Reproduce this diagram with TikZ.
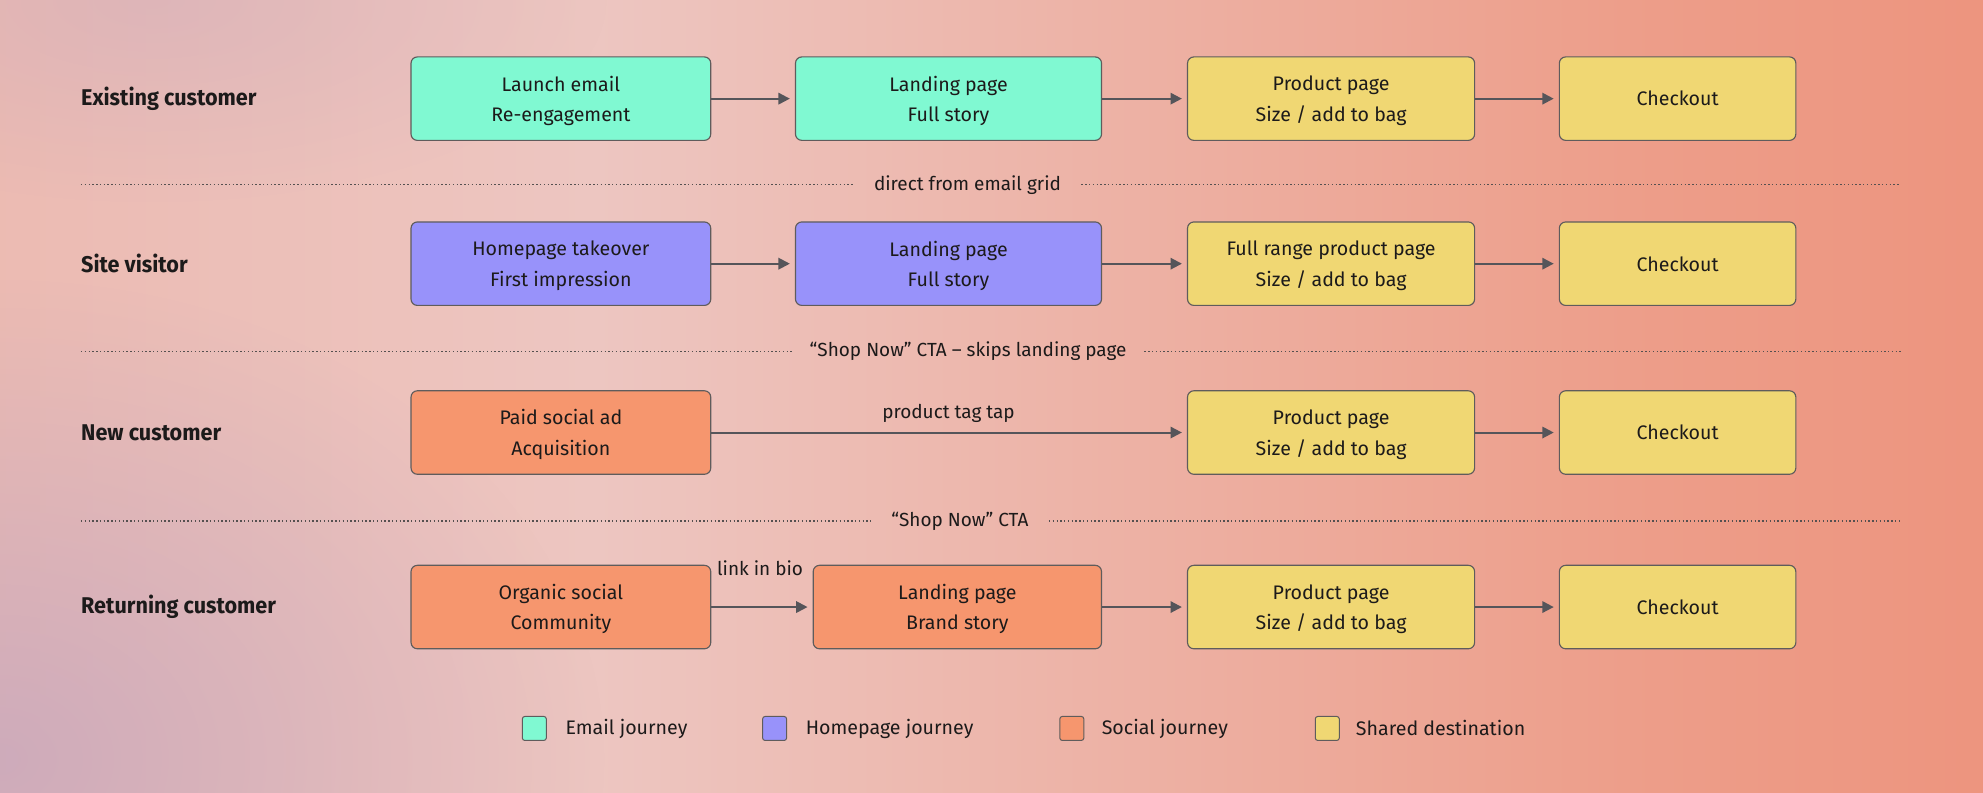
\documentclass[tikz,border=0pt]{standalone}
\usepackage{fontspec}
\setmainfont{Fira Sans}
\newfontfamily\rowfont[FakeStretch=0.95]{Fira Sans}
\usetikzlibrary{arrows.meta,fadings}

\definecolor{emailc}{RGB}{128,249,210}
\definecolor{homec}{RGB}{152,146,250}
\definecolor{socialc}{RGB}{246,150,110}
\definecolor{sharedc}{RGB}{240,215,115}
\definecolor{edgec}{RGB}{95,92,92}
\definecolor{arrowc}{RGB}{85,85,90}
\definecolor{inkc}{RGB}{28,26,26}
\definecolor{dotc}{RGB}{85,80,80}
\definecolor{bgL}{RGB}{234,168,154}
\definecolor{bgM}{RGB}{237,198,193}
\definecolor{bgN}{RGB}{237,158,138}
\definecolor{bgR}{RGB}{238,122,95}
\definecolor{lavc}{RGB}{196,166,190}

\pgfdeclarehorizontalshading{bgshade}{100bp}{color(0bp)=(bgL); color(40bp)=(bgM); color(66bp)=(bgN); color(100bp)=(bgR)}
\tikzfading[name=softblob, inner color=transparent!0, outer color=transparent!100]

\tikzset{
  stage/.style={draw=edgec, line width=0.9pt, rounded corners=5pt, minimum height=66pt,
    align=center, inner sep=0pt, text depth=0pt, text=inkc, font=\fontsize{15.5}{24}\selectfont},
  flow/.style={draw=arrowc, line width=1.6pt, -{Triangle[length=9pt,width=9pt]}, shorten >=4pt},
  rowlabel/.style={anchor=west, inner xsep=0pt, text=inkc, font=\rowfont\bfseries\fontsize{18}{20}\selectfont},
  divider/.style={draw=dotc, line width=1.1pt, dash pattern=on 1.1pt off 1.9pt},
  gapnote/.style={inner xsep=16pt, text=inkc, font=\fontsize{15}{17}\selectfont},
  note/.style={text=inkc, font=\fontsize{15}{17}\selectfont},
  key/.style={draw=edgec, line width=0.8pt, rounded corners=2pt, minimum size=19pt, inner sep=0pt},
  keytext/.style={anchor=west, inner xsep=0pt, text=inkc, font=\fontsize{15.5}{18}\selectfont},
}

\begin{document}
\begin{tikzpicture}[x=1pt,y=-1pt]
\useasboundingbox (0,0) rectangle (1568,627);
\shade[shading=bgshade] (0,0) rectangle (1568,627);
\fill[lavc, opacity=0.75, path fading=softblob] (0,600) ellipse (480pt and 380pt);
\fill[lavc, opacity=0.35, path fading=softblob] (120,0) ellipse (360pt and 160pt);

\node[rowlabel] (r1) at (64,78) {Existing customer};
\node[stage, fill=emailc, minimum width=237pt] (launch) at (443.5,78) {Launch email\\Re-engagement};
\node[stage, fill=emailc, minimum width=242pt] (land1) at (750,78) {Landing page\\Full story};
\node[stage, fill=sharedc, minimum width=227pt] (prod1) at (1052.5,78) {Product page\\Size / add to bag};
\node[stage, fill=sharedc, minimum width=187pt] (check1) at (1326.5,78) {Checkout};
\draw[flow] (launch) -- (land1);
\draw[flow] (land1) -- (prod1);
\draw[flow] (prod1) -- (check1);

\coordinate (d1l) at (64,146);
\coordinate (d1r) at (1503,146);
\node[gapnote] (d1) at (765,146) {direct from email grid};
\draw[divider] (d1l) -- (d1.west);
\draw[divider] (d1.east) -- (d1r);

\node[rowlabel] (r2) at (64,208.5) {Site visitor};
\node[stage, fill=homec, minimum width=237pt] (takeover) at (443.5,208.5) {Homepage takeover\\First impression};
\node[stage, fill=homec, minimum width=242pt] (land2) at (750,208.5) {Landing page\\Full story};
\node[stage, fill=sharedc, minimum width=227pt] (prod2) at (1052.5,208.5) {Full range product page\\Size / add to bag};
\node[stage, fill=sharedc, minimum width=187pt] (check2) at (1326.5,208.5) {Checkout};
\draw[flow] (takeover) -- (land2);
\draw[flow] (land2) -- (prod2);
\draw[flow] (prod2) -- (check2);

\coordinate (d2l) at (64,278);
\coordinate (d2r) at (1503,278);
\node[gapnote, inner xsep=14pt] (d2) at (765.5,278) {“Shop Now” CTA – skips landing page};
\draw[divider] (d2l) -- (d2.west);
\draw[divider] (d2.east) -- (d2r);

\node[rowlabel] (r3) at (64,342) {New customer};
\node[stage, fill=socialc, minimum width=237pt] (paid) at (443.5,342) {Paid social ad\\Acquisition};
\node[stage, fill=sharedc, minimum width=227pt] (prod3) at (1052.5,342) {Product page\\Size / add to bag};
\node[stage, fill=sharedc, minimum width=187pt] (check3) at (1326.5,342) {Checkout};
\draw[flow] (paid) -- (prod3);
\draw[flow] (prod3) -- (check3);
\node[note] (tag) at (750,327) {product tag tap};

\coordinate (d3l) at (64,412);
\coordinate (d3r) at (1503,412);
\node[gapnote] (d3) at (759,412) {“Shop Now” CTA};
\draw[divider] (d3l) -- (d3.west);
\draw[divider] (d3.east) -- (d3r);

\node[rowlabel] (r4) at (64,480) {Returning customer};
\node[stage, fill=socialc, minimum width=237pt] (organic) at (443.5,480) {Organic social\\Community};
\node[stage, fill=socialc, minimum width=228pt] (land4) at (757,480) {Landing page\\Brand story};
\node[stage, fill=sharedc, minimum width=227pt] (prod4) at (1052.5,480) {Product page\\Size / add to bag};
\node[stage, fill=sharedc, minimum width=187pt] (check4) at (1326.5,480) {Checkout};
\draw[flow] (organic) -- (land4);
\draw[flow] (land4) -- (prod4);
\draw[flow] (prod4) -- (check4);
\node[note] (bio) at (601,449) {link in bio};

\node[key, fill=emailc] (k1) at (422.5,576) {};
\node[keytext] (t1) at (447,576) {Email journey};
\node[key, fill=homec] (k2) at (612.5,576) {};
\node[keytext] (t2) at (637,576) {Homepage journey};
\node[key, fill=socialc] (k3) at (847.5,576) {};
\node[keytext] (t3) at (871,576) {Social journey};
\node[key, fill=sharedc] (k4) at (1049.5,576) {};
\node[keytext] (t4) at (1072,576) {Shared destination};
\end{tikzpicture}
\end{document}
